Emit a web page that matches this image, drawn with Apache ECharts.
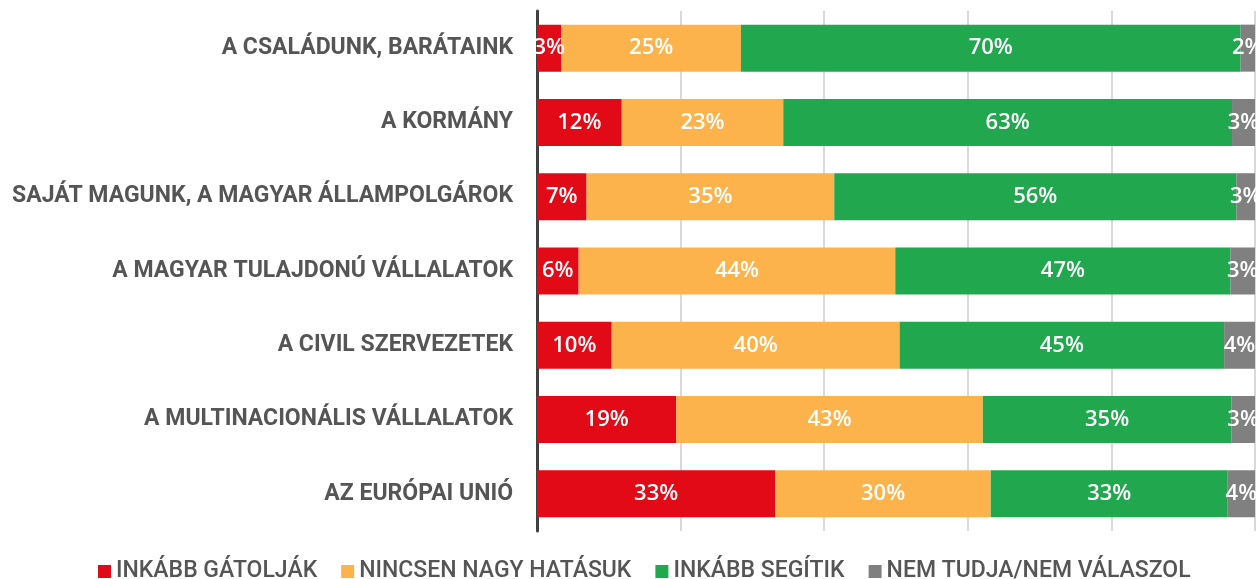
<!DOCTYPE html>
<html>
<head>
<meta charset="utf-8">
<script src="https://cdn.jsdelivr.net/npm/echarts@6/dist/echarts.min.js"></script>
<style>
html,body{margin:0;padding:0;background:#fff;}
#chart{width:1256px;height:579px;}
</style>
</head>
<body>
<div id="chart"></div>
<script>
const categories = [
  'A CSALÁDUNK, BARÁTAINK',
  'A KORMÁNY',
  'SAJÁT MAGUNK, A MAGYAR ÁLLAMPOLGÁROK',
  'A MAGYAR TULAJDONÚ VÁLLALATOK',
  'A CIVIL SZERVEZETEK',
  'A MULTINACIONÁLIS VÁLLALATOK',
  'AZ EURÓPAI UNIÓ'
];
const seriesNames = ['INKÁBB GÁTOLJÁK', 'NINCSEN NAGY HATÁSUK', 'INKÁBB SEGÍTIK', 'NEM TUDJA/NEM VÁLASZOL'];
const gatoljak = [3.4, 11.8, 6.9, 5.8, 10.4, 19.4, 33.2];
const nincsen  = [25.0, 22.5, 34.5, 44.1, 40.1, 42.7, 30.0];
const segitik  = [69.6, 62.5, 56.0, 46.7, 45.2, 34.6, 33.0];
const nemTudja = [2.0, 3.2, 2.6, 3.4, 4.3, 3.3, 3.8];
const colors = ['#e20a16', '#fdb34b', '#21a84f', '#808080'];
const allData = [gatoljak, nincsen, segitik, nemTudja];

const FONT = 'Roboto';
const chart = echarts.init(document.getElementById('chart'));
chart.setOption({
  animation: false,
  textStyle: { fontFamily: FONT },
  grid: { left: 537, right: 1, top: 11, bottom: 48, containLabel: false },
  legend: {
    top: 555,
    left: 93,
    itemWidth: 13,
    itemHeight: 13,
    itemGap: 24,
    icon: 'rect',
    textStyle: { color: '#555', fontSize: 23, fontWeight: 500, fontFamily: FONT },
    data: seriesNames
  },
  xAxis: {
    type: 'value',
    min: 0, max: 100, interval: 20,
    axisLabel: { show: false },
    axisLine: { show: false },
    axisTick: { show: false },
    splitLine: { show: true, lineStyle: { color: '#d9d9d9', width: 2 } }
  },
  yAxis: {
    type: 'category',
    inverse: true,
    data: categories,
    axisLine: { show: true, lineStyle: { color: '#404040', width: 3 } },
    axisTick: { show: false },
    axisLabel: { color: '#555', fontSize: 23, fontWeight: 'bold', margin: 24, fontFamily: FONT }
  },
  series: seriesNames.map((name, i) => ({
    name: name,
    type: 'bar',
    stack: 'total',
    barWidth: 47,
    itemStyle: { color: colors[i] },
    label: {
      show: true,
      position: 'inside',
      color: '#fff',
      fontSize: 22,
      fontWeight: 600,
      fontFamily: 'Open Sans',
      formatter: p => Math.round(p.value) + '%'
    },
    data: allData[i]
  }))
});
</script>
</body>
</html>
